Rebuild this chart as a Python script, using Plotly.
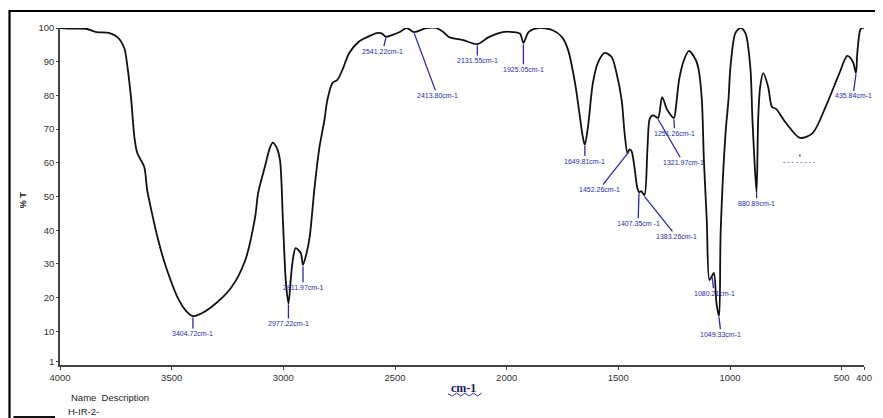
import numpy as np
import plotly.graph_objects as go

# ---- spectrum data ----
wavenumber = [4000, 3940, 3880, 3836, 3778, 3743, 3712, 3698, 3681, 3667, 3654, 3623, 3610, 3601,
              3560, 3525, 3468, 3435, 3405, 3370, 3322, 3233, 3171, 3126, 3113, 3082, 3060, 3047,
              3030, 3015, 3002, 2989, 2977, 2966, 2958, 2945, 2922, 2912, 2895, 2882, 2860, 2838,
              2816, 2803, 2780, 2758, 2736, 2705, 2661, 2625, 2581, 2560, 2541, 2514, 2479, 2448,
              2414, 2359, 2315, 2284, 2257, 2195, 2131, 2080, 2018, 1973, 1940, 1925, 1902, 1858,
              1796, 1752, 1725, 1694, 1672, 1660, 1650, 1636, 1614, 1592, 1561, 1530, 1508, 1485,
              1472, 1459, 1450, 1441, 1428, 1415, 1407, 1397, 1383, 1370, 1361, 1352, 1340, 1322,
              1304, 1281, 1251, 1242, 1228, 1206, 1184, 1153, 1140, 1126, 1117, 1104, 1092, 1080,
              1072, 1060, 1049, 1042, 1020, 1007, 998, 976, 953, 931, 909, 900, 890, 881, 874, 865,
              851, 829, 812, 794, 749, 687, 630, 572, 510, 475, 450, 436, 430, 417, 408, 400]
transmittance = [100, 99.8, 99.7, 98.8, 98.5, 97.3, 94, 88.5, 78.6, 67.7, 62.9, 58.8, 52, 49,
                 37, 29, 19.3, 16, 14.5, 15.2, 17.2, 23, 31, 44, 51, 59, 64.5, 66,
                 64.5, 60.8, 43, 25, 18.2, 26, 31, 34.7, 33.2, 29.7, 33.5, 38, 52.8, 64.7,
                 72.7, 78.6, 83.7, 84.6, 87.5, 92.6, 96, 97.3, 98.5, 98.4, 97.4, 97.9, 98.8, 100,
                 98.8, 100, 100, 98.8, 97.3, 96.4, 95.2, 97.3, 98.8, 98.8, 98.3, 95.6, 98.8, 100,
                 99.4, 97.3, 93.5, 83.7, 73.6, 68, 65.3, 70.6, 83.7, 89.6, 92.6, 91.4, 86.6, 78.6,
                 68.8, 62.9, 64, 63.5, 58.8, 52.5, 51.3, 51.6, 50.4, 63.8, 72.7, 73.9, 74, 73.3,
                 79.5, 75.7, 73.3, 76.6, 84.6, 90.5, 93.2, 90.5, 87.5, 78.6, 61, 43, 25.2, 26.5,
                 27.3, 18, 14.5, 39, 68.8, 78.6, 88.4, 98.5, 100, 98.5, 88.4, 73.6, 60, 51.3, 72.7, 82.5,
                 86.6, 82.5, 76.6, 76, 71.8, 67.4, 68.8, 76.6, 86.6, 91.7, 90, 86.6, 92.6, 99.4, 100, 100]

peak_wn = [3404.72, 2977.22, 2911.97, 2541.22, 2413.80, 2131.55, 1925.05, 1649.81, 1452.26,
           1407.35, 1383.26, 1321.97, 1251.26, 1080.21, 1049.33, 880.89, 435.84]
peak_labels = ["3404.72cm-1", "2977.22cm-1", "2911.97cm-1", "2541.22cm-1", "2413.80cm-1",
               "2131.55cm-1", "1925.05cm-1", "1649.81cm-1", "1452.26cm-1", "1407.35cm -1",
               "1383.26cm-1", "1321.97cm-1", "1251.26cm-1", "1080.21cm-1", "1049.33cm-1",
               "880.89cm-1", "435.84cm-1"]
label_dx = [0, 0, 0, -3, 23, 0, 0, 0, -30, -1, 32, 25, 1, 2, 2, 0, -3]
label_dy = [16, 19, 21, 13, 62, 15, 25, 15, 38, 30, 40, 43, 14, 16, 17, 11, 22]

x_ticks = [4000, 3500, 3000, 2500, 2000, 1500, 1000, 500, 400]
y_ticks = [1, 10, 20, 30, 40, 50, 60, 70, 80, 90, 100]

# page body has an 8px margin; figure coordinates are reference pixels minus OFF
OFF = 8
W, H = 883 - OFF, 418 - OFF
L, R, T, B = 60 - OFF, 11, 28 - OFF, 53
pw, ph = W - L - R, H - T - B


def px(xp):
    return (xp - OFF - L) / pw


def py(yp):
    return (H - B - (yp - OFF)) / ph


fig = go.Figure()
fig.add_trace(go.Scatter(x=wavenumber, y=transmittance, mode="lines",
                         line=dict(color="#111111", width=1.8, shape="spline", smoothing=0.8),
                         showlegend=False, hoverinfo="skip"))

wn_asc = np.array(wavenumber[::-1], dtype=float)
t_asc = np.array(transmittance[::-1], dtype=float)
blue = "#2a2aa8"
annotations = []
for wn, lab, dx, dy in zip(peak_wn, peak_labels, label_dx, label_dy):
    yv = float(np.interp(wn, wn_asc, t_asc)) - 0.4
    annotations.append(dict(x=wn, y=yv, xref="x", yref="y", text=lab, showarrow=True,
                            arrowhead=0, arrowwidth=1.3, arrowcolor=blue, ax=dx, ay=dy,
                            standoff=0, font=dict(family="Liberation Sans", size=7, color=blue)))
# garbled label near 690 cm-1
annotations.append(dict(x=687, y=62.5, xref="x", yref="y", text="- - - - - - - -", showarrow=True,
                        arrowhead=0, arrowwidth=1.3, arrowcolor=blue, ax=0, ay=7, standoff=0,
                        font=dict(family="Liberation Sans", size=7, color=blue)))

# axis titles and legend texts
annotations += [
    dict(x=px(468), y=py(388), xref="paper", yref="paper", text="<b>cm-1</b>", showarrow=False,
         xanchor="center", yanchor="middle",
         font=dict(family="Liberation Serif", size=12, color="#1a1a60")),
    dict(x=px(23), y=py(200), xref="paper", yref="paper", text="<b>% T</b>", textangle=-90,
         xanchor="center", yanchor="middle",
         showarrow=False, font=dict(family="Liberation Sans", size=9, color="#222222")),
    dict(x=px(69), y=py(397), xref="paper", yref="paper", text="Name  Description",
         xanchor="left", yanchor="middle", showarrow=False,
         font=dict(family="Liberation Sans", size=9.5, color="#222222")),
    dict(x=px(66), y=py(411), xref="paper", yref="paper", text="H-IR-2-",
         xanchor="left", yanchor="middle", showarrow=False,
         font=dict(family="Liberation Sans", size=9.5, color="#222222")),
]

# wavy underline under cm-1
xs = np.linspace(452, 486, 9)
wave = "M {} {}".format(px(xs[0]), py(394))
for i, xv in enumerate(xs[1:]):
    yv = 396 if i % 2 == 0 else 393
    wave += " L {} {}".format(px(xv), py(yv))

shapes = [
    dict(type="path", xref="paper", yref="paper",
         path="M {} {} L {} {} L {} {}".format(px(9), py(430), px(9), py(11), px(895), py(11)),
         line=dict(color="#000000", width=2.2)),
    dict(type="line", xref="paper", yref="paper", x0=px(13), x1=px(55), y0=py(417), y1=py(417),
         line=dict(color="#111111", width=2)),
    dict(type="path", xref="paper", yref="paper", path=wave, line=dict(color="#3030c0", width=1)),
]

fig.update_layout(
    width=W, height=H, margin=dict(l=L, r=R, t=T, b=B),
    paper_bgcolor="white", plot_bgcolor="white",
    annotations=annotations, shapes=shapes,
    xaxis=dict(range=[4000, 400], tickvals=x_ticks, ticktext=[str(v) for v in x_ticks],
               showgrid=False, zeroline=False, showline=True, linecolor="#444444", linewidth=1.5,
               ticks="outside", ticklen=3, tickcolor="#444444",
               tickfont=dict(family="Liberation Sans", size=9.5, color="#333333")),
    yaxis=dict(range=[0, 100], tickvals=y_ticks, ticktext=[str(v) for v in y_ticks],
               showgrid=False, zeroline=False, showline=True, linecolor="#444444", linewidth=1.5,
               ticks="outside", ticklen=2, tickcolor="#444444",
               tickfont=dict(family="Liberation Sans", size=9.5, color="#333333")),
)

fig.write_html("out.html")
